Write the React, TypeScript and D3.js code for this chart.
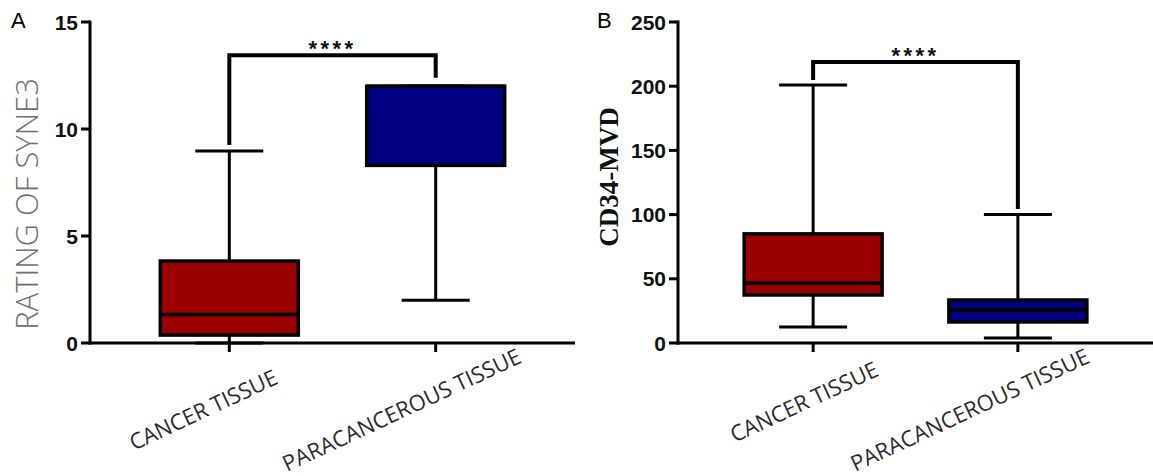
import React from "react";
import * as d3 from "d3";

// categories shared by both panels
const categories = ["CANCER TISSUE", "PARACANCEROUS TISSUE"];

// box stats: [min, q1, median, q3, max]
const syne3Stats = [
  [0, 0.37, 1.33, 3.83, 8.97],
  [2, 8.3, 12, 12, 12],
];
const cd34Stats = [
  [12.5, 37.4, 46.7, 85, 201],
  [3.9, 16.4, 25.7, 33.5, 100],
];

const syne3Ticks = [0, 5, 10, 15];
const cd34Ticks = [0, 50, 100, 150, 200, 250];

// significance bracket: [bar level, left leg end, right leg end]
const syne3Bracket = [13.45, 9.25, 12.4];
const cd34Bracket = [218.8, 204.8, 104.4];

const boxColors = ["#9b0000", "#000080"];

type Panel = {
  letter: string;
  letterX: number;
  axisX: number;
  axisEnd: number;
  padding: number;
  domain: [number, number];
  ticks: number[];
  stats: number[][];
  bracket: number[];
  title: string;
  titleX: number;
  titleY: number;
  titleStyle: React.CSSProperties;
  labelOffsets: [number, number][];
};

const panels: Panel[] = [
  {
    letter: "A",
    letterX: 11,
    axisX: 90,
    axisEnd: 575,
    padding: 0.675,
    domain: [0, 15],
    ticks: syne3Ticks,
    stats: syne3Stats,
    bracket: syne3Bracket,
    title: "RATING OF SYNE3",
    titleX: 38,
    titleY: 204,
    titleStyle: { fontFamily: "'Open Sans', sans-serif", fontWeight: 300, fontSize: 31, fill: "#707070" },
    labelOffsets: [[-26, 67], [-34, 67]],
  },
  {
    letter: "B",
    letterX: 597,
    axisX: 678,
    axisEnd: 1153,
    padding: 0.66,
    domain: [0, 250],
    ticks: cd34Ticks,
    stats: cd34Stats,
    bracket: cd34Bracket,
    title: "CD34-MVD",
    titleX: 618,
    titleY: 177,
    titleStyle: { fontFamily: "'Liberation Serif', 'Times New Roman', serif", fontWeight: 700, fontSize: 27, fill: "#111" },
    labelOffsets: [[-9, 59], [-48, 67]],
  },
];

const top = 22;
const bottom = 343;
const boxW = 138;
const capW = 68;

function BoxPanel({ p }: { p: Panel }) {
  const y = d3.scaleLinear().domain(p.domain).range([bottom, top]);
  const x = d3.scalePoint().domain(categories).range([p.axisX, p.axisEnd]).padding(p.padding);
  const [bar, leftEnd, rightEnd] = p.bracket;
  const x1 = x(categories[0])!;
  const x2 = x(categories[1])!;

  return (
    <g>
      <text x={p.letterX} y={28} fontFamily="'Liberation Sans', Arial, sans-serif" fontSize={22}>
        {p.letter}
      </text>
      <text
        transform={`translate(${p.titleX},${p.titleY}) rotate(-90)`}
        textAnchor="middle"
        style={p.titleStyle}
      >
        {p.title}
      </text>

      {categories.map((c, i) => {
        const [mn, q1, med, q3, mx] = p.stats[i];
        const cx = x(c)!;
        return (
          <g key={c} stroke="#000" strokeWidth={3}>
            <line x1={cx} x2={cx} y1={y(mx)} y2={y(q3)} />
            <line x1={cx} x2={cx} y1={y(q1)} y2={y(mn)} />
            <line x1={cx - capW / 2} x2={cx + capW / 2} y1={y(mx)} y2={y(mx)} />
            <line x1={cx - capW / 2} x2={cx + capW / 2} y1={y(mn)} y2={y(mn)} />
            <rect x={cx - boxW / 2} y={y(q3)} width={boxW} height={y(q1) - y(q3)} fill={boxColors[i]} strokeWidth={3.5} />
            <line x1={cx - boxW / 2} x2={cx + boxW / 2} y1={y(med)} y2={y(med)} strokeWidth={3.5} />
          </g>
        );
      })}

      {/* axes */}
      <g stroke="#000" strokeWidth={3} fill="none">
        <line x1={p.axisX} x2={p.axisX} y1={top - 1.5} y2={bottom + 1.5} />
        <line x1={p.axisX - 1.5} x2={p.axisEnd} y1={bottom} y2={bottom} />
        {p.ticks.map((t) => (
          <line key={t} x1={p.axisX - 9} x2={p.axisX} y1={y(t)} y2={y(t)} />
        ))}
        {categories.map((c) => (
          <line key={c} x1={x(c)} x2={x(c)} y1={bottom} y2={bottom + 9} />
        ))}
      </g>
      {p.ticks.map((t) => (
        <text
          key={t}
          x={p.axisX - 12}
          y={y(t)}
          dy="0.36em"
          textAnchor="end"
          fontFamily="'Liberation Sans', Arial, sans-serif"
          fontWeight={700}
          fontSize={21}
          fill="#111"
        >
          {t}
        </text>
      ))}
      {categories.map((c, i) => {
        const [dx, dy] = p.labelOffsets[i];
        return (
          <text
            key={c}
            transform={`translate(${x(c)! + dx},${bottom + dy}) rotate(-25)`}
            textAnchor="middle"
            dy="0.35em"
            fontFamily="'Open Sans', sans-serif"
            fontSize={22}
            fill="#2a2a2a"
          >
            {c}
          </text>
        );
      })}

      {/* significance bracket */}
      <path
        d={`M${x1},${y(leftEnd)}V${y(bar)}H${x2}V${y(rightEnd)}`}
        fill="none"
        stroke="#000"
        strokeWidth={4}
      />
      <text
        x={(x1 + x2) / 2}
        y={y(bar) + 1}
        textAnchor="middle"
        fontFamily="'Liberation Sans', Arial, sans-serif"
        fontWeight={700}
        fontSize={22}
        letterSpacing={3.5}
        fill="#111"
      >
        ****
      </text>
    </g>
  );
}

export default function App() {
  return (
    <svg
      width={1153}
      height={476}
      style={{ position: "absolute", left: 0, top: 0, background: "#fff" }}
    >
      {panels.map((p) => (
        <BoxPanel key={p.letter} p={p} />
      ))}
    </svg>
  );
}
